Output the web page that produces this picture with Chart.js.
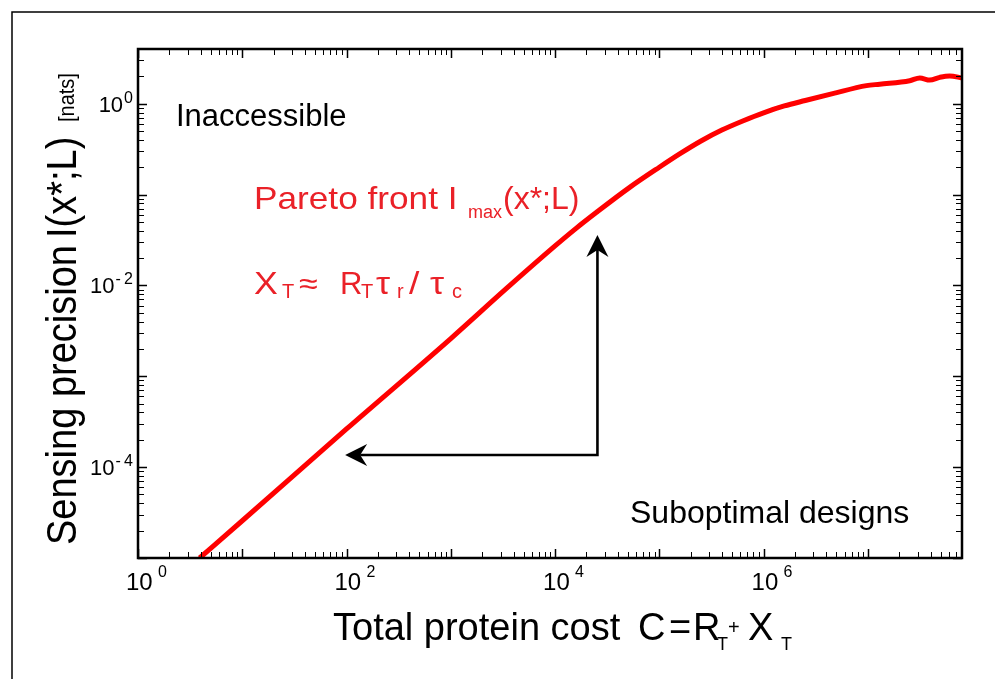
<!DOCTYPE html>
<html>
<head>
<meta charset="utf-8">
<script src="https://cdn.jsdelivr.net/npm/chart.js"></script>
<style>
html, body { margin: 0; padding: 0; background: #fff; }
#wrap { width: 995px; height: 679px; }
</style>
</head>
<body>
<div id="wrap"><canvas id="paretoChart" width="995" height="679"></canvas></div>
<script>
// total protein cost C = R_T + X_T
var proteinCost = [3.9, 10, 100, 1000, 3400, 1e4, 1.58e4, 2.5e4, 5.2e4, 1e5, 1.58e5, 2.51e5, 3.98e5, 6.31e5, 1e6, 1.58e6, 2.51e6, 4.6e6, 9.7e6, 1.3e7, 2.52e7, 3.15e7, 3.93e7, 4.89e7, 6.1e7, 8.0e7];
// Pareto front I_max(x*;L) [nats]
var maxInformation = [1.0e-5, 2.57e-5, 2.63e-4, 2.6e-3, 9.2e-3, 2.72e-2, 4.22e-2, 6.38e-2, 0.12, 0.20, 0.282, 0.389, 0.513, 0.646, 0.794, 0.944, 1.084, 1.29, 1.58, 1.64, 1.79, 1.92, 1.82, 1.95, 2.02, 1.92];
// labelled decades
var xTickExponents = [0, 2, 4, 6];
var yTickExponents = [0, -2, -4];

// arrows (data coords): corner, left end, upper end
var arrowCorner = { x: 2.55e4, y: 1.36e-4 };
var arrowLeftEnd = 97;
var arrowUpEnd = 0.036;

var FAMILY = '"Liberation Sans", Arial, Helvetica, sans-serif';
var RED_TEXT = '#ea2128';
function font(size) { return size + 'px ' + FAMILY; }

// text with a slight horizontal stretch, like the original figure
function wideText(ctx, text, x, y, sx) {
	ctx.save();
	ctx.translate(x, y);
	ctx.scale(sx, 1);
	ctx.fillText(text, 0, 0);
	ctx.restore();
}

function drawArrowHead(ctx, tx, ty, dx, dy) {
	// dx,dy = unit vector pointing from tip back along the shaft
	var len = 22, half = 11, notch = 15;
	var nx = -dy, ny = dx;
	ctx.beginPath();
	ctx.moveTo(tx, ty);
	ctx.lineTo(tx + dx * len + nx * half, ty + dy * len + ny * half);
	ctx.lineTo(tx + dx * notch, ty + dy * notch);
	ctx.lineTo(tx + dx * len - nx * half, ty + dy * len - ny * half);
	ctx.closePath();
	ctx.fill();
}

var axesPlugin = {
	id: 'axesPlugin',
	afterDatasetsDraw: function (chart) {
		var ctx = chart.ctx, a = chart.chartArea;
		var xs = chart.scales.x, ys = chart.scales.y;
		ctx.save();
		ctx.fillStyle = '#000';
		ctx.strokeStyle = '#000';

		// outer figure frame
		ctx.lineWidth = 1.5;
		ctx.beginPath();
		ctx.moveTo(12, chart.height);
		ctx.lineTo(12, 12);
		ctx.lineTo(chart.width, 12);
		ctx.stroke();

		// inward ticks on all four sides
		var d, k, v, p, len;
		for (d = 0; d <= 8; d++) {
			for (k = 1; k <= 9; k++) {
				v = k * Math.pow(10, d);
				if (v < xs.min || v > xs.max) continue;
				p = Math.round(xs.getPixelForValue(v)) + 0.5;
				len = k === 1 ? 9 : 6;
				ctx.lineWidth = k === 1 ? 1.5 : 1;
				ctx.beginPath();
				ctx.moveTo(p, a.bottom); ctx.lineTo(p, a.bottom - len);
				ctx.moveTo(p, a.top); ctx.lineTo(p, a.top + len);
				ctx.stroke();
			}
		}
		for (d = -5; d <= 0; d++) {
			for (k = 1; k <= 9; k++) {
				v = k * Math.pow(10, d);
				if (v < ys.min || v > ys.max) continue;
				p = Math.round(ys.getPixelForValue(v)) + 0.5;
				len = k === 1 ? 9 : 6;
				ctx.lineWidth = k === 1 ? 1.5 : 1;
				ctx.beginPath();
				ctx.moveTo(a.left, p); ctx.lineTo(a.left + len, p);
				ctx.moveTo(a.right, p); ctx.lineTo(a.right - len, p);
				ctx.stroke();
			}
		}

		// plot box
		ctx.lineWidth = 2.5;
		ctx.strokeRect(a.left, a.top, a.right - a.left, a.bottom - a.top);

		// x tick labels
		ctx.textBaseline = 'alphabetic';
		ctx.textAlign = 'left';
		xTickExponents.forEach(function (e) {
			var px = xs.getPixelForValue(Math.pow(10, e));
			ctx.font = font(24);
			ctx.fillText('10', px - 12, 590);
			ctx.font = font(16);
			ctx.fillText(String(e), px + 20, 577);
		});

		// y tick labels
		ctx.textAlign = 'right';
		yTickExponents.forEach(function (e) {
			var py = ys.getPixelForValue(Math.pow(10, e));
			var right = a.left - 5;
			ctx.font = font(16);
			var expText = e < 0 ? '-\u2009' + String(-e) : String(e);
			var w = ctx.measureText(expText).width;
			ctx.fillText(expText, right, py - 1);
			ctx.font = font(22);
			ctx.fillText('10', right - w - 1, py + 8);
		});

		// x axis title
		ctx.textAlign = 'left';
		ctx.font = font(38);
		ctx.fillText('Total protein cost', 333, 640);
		ctx.fillText('C', 638, 640);
		ctx.fillText('=', 669, 640);
		ctx.fillText('R', 693, 640);
		ctx.fillText('X', 748, 640);
		ctx.font = font(18);
		ctx.fillText('T', 717, 650);
		ctx.fillText('T', 781, 650);
		ctx.font = font(20);
		ctx.fillText('+', 728, 634);

		// y axis title (rotated, glyphs a bit taller across)
		ctx.save();
		ctx.translate(76, 545);
		ctx.rotate(-Math.PI / 2);
		ctx.scale(1, 1.1);
		ctx.font = font(38);
		ctx.fillText('Sensing precision', 0, 0);
		ctx.fillText('I(x*;L)', 307, 0);
		ctx.font = font(20);
		ctx.fillText('[nats]', 423, -2);
		ctx.restore();

		// region labels
		ctx.font = font(31);
		ctx.fillText('Inaccessible', 176, 126);
		ctx.font = font(32);
		ctx.fillText('Suboptimal designs', 630, 523);

		// red annotations
		ctx.fillStyle = RED_TEXT;
		ctx.font = font(32);
		wideText(ctx, 'Pareto front I', 254, 209, 1.1);
		ctx.font = font(18);
		ctx.fillText('max', 468, 218);
		ctx.font = font(32);
		ctx.fillText('(x*;L)', 503, 209);

		ctx.font = font(31);
		wideText(ctx, 'X', 254, 294, 1.15);
		wideText(ctx, '\u2248', 299, 294, 1.1);
		wideText(ctx, 'R', 340, 294, 1.0);
		wideText(ctx, '\u03c4', 376, 294, 1.15);
		wideText(ctx, '/', 409, 294, 1.2);
		wideText(ctx, '\u03c4', 430, 294, 1.15);
		ctx.font = font(20);
		ctx.fillText('T', 282, 298);
		ctx.fillText('T', 361, 298);
		ctx.fillText('r', 397, 298);
		ctx.fillText('c', 452, 298);

		// arrows
		ctx.fillStyle = '#000';
		ctx.strokeStyle = '#000';
		ctx.lineWidth = 2.6;
		var cx = xs.getPixelForValue(arrowCorner.x);
		var cy = ys.getPixelForValue(arrowCorner.y);
		var lx = xs.getPixelForValue(arrowLeftEnd);
		var uy = ys.getPixelForValue(arrowUpEnd);
		ctx.beginPath();
		ctx.moveTo(lx + 15, cy);
		ctx.lineTo(cx, cy);
		ctx.lineTo(cx, uy + 15);
		ctx.stroke();
		drawArrowHead(ctx, lx, cy, 1, 0);
		drawArrowHead(ctx, cx, uy, 0, 1);

		ctx.restore();
	}
};

var points = proteinCost.map(function (c, i) { return { x: c, y: maxInformation[i] }; });

new Chart(document.getElementById('paretoChart'), {
	type: 'line',
	data: {
		datasets: [{
			label: 'Pareto front',
			data: points,
			borderColor: '#ff0000',
			borderWidth: 5,
			pointRadius: 0,
			fill: false,
			cubicInterpolationMode: 'monotone'
		}]
	},
	options: {
		responsive: false,
		animation: false,
		devicePixelRatio: 1,
		layout: { padding: { left: 138, top: 49, right: 33, bottom: 121 } },
		plugins: {
			legend: { display: false },
			tooltip: { enabled: false }
		},
		scales: {
			x: { type: 'logarithmic', min: 1, max: 8e7, display: false },
			y: { type: 'logarithmic', min: 1e-5, max: 4, display: false }
		}
	},
	plugins: [axesPlugin]
});
</script>
</body>
</html>
